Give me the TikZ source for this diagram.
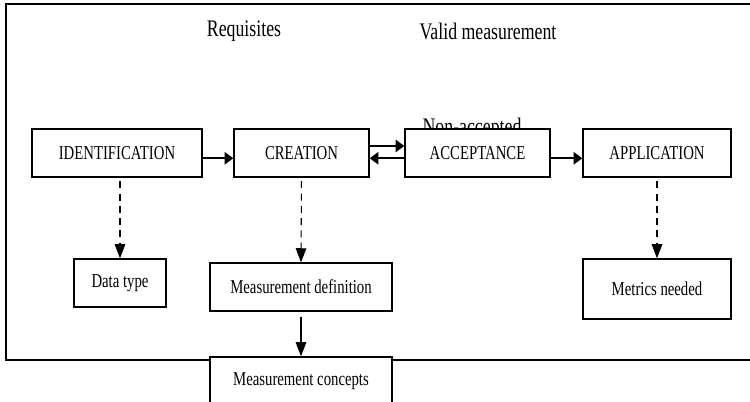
\documentclass[tikz,border=0pt]{standalone}
\usepackage{fontspec}
\setmainfont{Liberation Serif}[FakeStretch=0.75]
\usetikzlibrary{arrows.meta}

\begin{document}
\begin{tikzpicture}[x=0.02cm, y=-0.02cm,
  stageBox/.style={draw, fill=white, line width=0.8pt, inner sep=0pt,
    minimum height=0.96cm, font=\fontsize{11.2}{13}\selectfont},
  headText/.style={font=\fontsize{13.5}{15}\selectfont},
  flowArrow/.style={-{Triangle[length=5pt,width=7pt]}, line width=1.2pt},
  downArrow/.style={-{Triangle[length=8pt,width=6pt]}, line width=0.6pt},
  dashArrow/.style={downArrow, dash pattern=on 4pt off 3pt, shorten <=2pt}]

	% Page and outer frame
	\useasboundingbox (0,0) rectangle (750,402);
	\clip (0,0) rectangle (750,402);
	\draw[line width=0.9pt] (6,4) rectangle (800,360);

	% Headings
	\node[headText] (requisites) at (244,31) {Requisites};
	\node[headText] (valid) at (488,31) {Valid measurement};
	\node[headText, anchor=base] (nonAccepted) at (472,134) {Non-accepted};

	% The four stages
	\node[stageBox, minimum width=3.4cm] (ident) at (117,153) {IDENTIFICATION};
	\node[stageBox, minimum width=2.7cm] (create) at (301.5,153) {CREATION};
	\node[stageBox, minimum width=2.9cm] (accept) at (477.5,153) {ACCEPTANCE};
	\node[stageBox, minimum width=2.96cm] (apply) at (657,153) {APPLICATION};

	% What each stage gives
	\node[stageBox, minimum width=1.84cm] (dataType) at (120,283) {Data type};
	\node[stageBox, minimum width=3.64cm] (measDef) at (301,287) {Measurement definition};
	\node[stageBox, minimum width=2.96cm, minimum height=1.2cm] (metrics) at (657,289) {Metrics needed};
	\node[stageBox, minimum width=3.64cm] (measConcepts) at (301,381) {Measurement concepts};

	% Flow between stages
	\draw[flowArrow] ([yshift=-3pt]ident.east) -- ([yshift=-3pt]create.west);
	\draw[flowArrow] ([yshift=4pt]create.east) -- ([yshift=4pt]accept.west);
	\draw[flowArrow] ([yshift=-3pt]accept.west) -- ([yshift=-3pt]create.east);
	\draw[flowArrow] ([yshift=-3pt]accept.east) -- ([yshift=-3pt]apply.west);

	% Outputs
	\draw[dashArrow] (ident.south -| dataType.north) -- (dataType.north);
	\draw[dashArrow] (create.south) -- (measDef.north);
	\draw[dashArrow] (apply.south) -- (metrics.north);
	\draw[downArrow] ([yshift=-3pt]measDef.south) -- (measConcepts.north);

\end{tikzpicture}
\end{document}
